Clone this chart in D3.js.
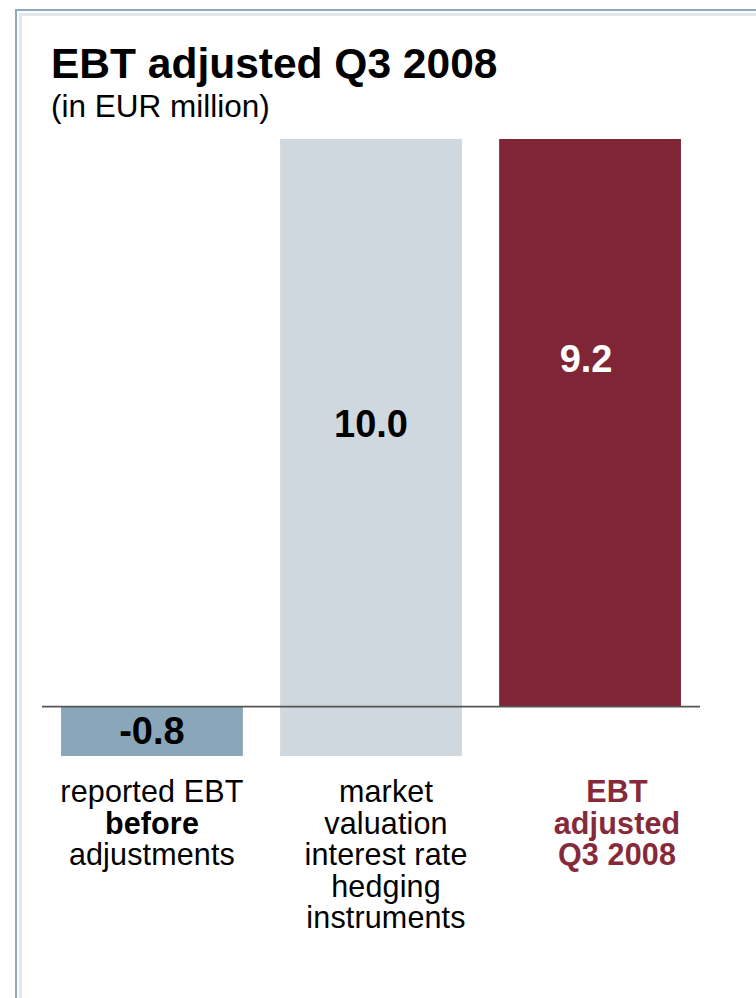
<!DOCTYPE html>
<html>
<head>
<meta charset="utf-8">
<script src="https://cdn.jsdelivr.net/npm/d3@7"></script>
<style>
  html, body { margin: 0; padding: 0; background: #fff; }
  svg { display: block; font-family: "Liberation Sans", Arial, Helvetica, sans-serif; }
</style>
</head>
<body>
<svg id="chart" width="756" height="998"></svg>
<script>
// Bridge from reported EBT to adjusted EBT, Q3 2008 (EUR million)
const categories = ["reported", "valuation", "adjusted"];
const steps = [-0.8, 10.0, 9.2];          // value shown on each bar
const kinds = ["delta", "delta", "total"]; // total bars start at zero
const valueLabels = ["-0.8", "10.0", "9.2"];
const categoryLines = [
  [{ t: "reported EBT", b: false }, { t: "before", b: true }, { t: "adjustments", b: false }],
  [{ t: "market", b: false }, { t: "valuation", b: false }, { t: "interest rate", b: false },
   { t: "hedging", b: false }, { t: "instruments", b: false }],
  [{ t: "EBT", b: true }, { t: "adjusted", b: true }, { t: "Q3 2008", b: true }]
];
const titleText = "EBT adjusted Q3 2008";
const subtitleText = "(in EUR million)";

const barColors = ["#8aa6b9", "#cfd8de", "#7f2536"];
const labelColors = ["#000", "#000", "#fff"];
const catColors = ["#000", "#000", "#862a3b"];

const svg = d3.select("#chart");

// frame lines along the top and left edge
svg.append("rect").attr("x", 15).attr("y", 9).attr("width", 741).attr("height", 2).attr("fill", "#8fa9bc");
svg.append("rect").attr("x", 15).attr("y", 9).attr("width", 2).attr("height", 989).attr("fill", "#8fa9bc");
svg.append("rect").attr("x", 19).attr("y", 13).attr("width", 737).attr("height", 3).attr("fill", "#e1e8ef");
svg.append("rect").attr("x", 19).attr("y", 13).attr("width", 3).attr("height", 985).attr("fill", "#e1e8ef");

// titles
svg.append("text").attr("x", 51).attr("y", 78)
  .attr("font-size", 42.5).attr("font-weight", "bold").attr("fill", "#000").text(titleText);
svg.append("text").attr("x", 51).attr("y", 117)
  .attr("font-size", 31.5).attr("fill", "#000").text(subtitleText);

// running totals for the bridge
let run = 0;
const bars = steps.map((v, i) => {
  let lo, hi;
  if (kinds[i] === "total") { lo = Math.min(0, v); hi = Math.max(0, v); run = v; }
  else { const s = run, e = run + v; lo = Math.min(s, e); hi = Math.max(s, e); run = e; }
  return { cat: categories[i], lo, hi, v, i };
});

const y = d3.scaleLinear()
  .domain([d3.min(bars, d => d.lo), d3.max(bars, d => d.hi)])
  .range([756, 139]);

const x = d3.scaleBand()
  .domain(categories)
  .range([42, 700])
  .paddingInner(0.17)
  .paddingOuter(0.087);

svg.append("g").selectAll("rect")
  .data(bars)
  .join("rect")
  .attr("x", d => x(d.cat))
  .attr("width", x.bandwidth())
  .attr("y", d => y(d.hi))
  .attr("height", d => y(d.lo) - y(d.hi))
  .attr("fill", (d, i) => barColors[i]);

// zero line
svg.append("line")
  .attr("x1", x.range()[0]).attr("x2", x.range()[1])
  .attr("y1", y(0)).attr("y2", y(0))
  .attr("stroke", "#555").attr("stroke-width", 1.6);

// value labels inside the bars
const labelOffset = [37, 298, 233]; // baseline below the bar top
const labelShift = [0, 0, -4];
svg.append("g").selectAll("text")
  .data(bars)
  .join("text")
  .attr("x", (d, i) => x(d.cat) + x.bandwidth() / 2 + labelShift[i])
  .attr("y", (d, i) => y(d.hi) + labelOffset[i])
  .attr("text-anchor", "middle")
  .attr("font-size", 38)
  .attr("font-weight", "bold")
  .attr("fill", (d, i) => labelColors[i])
  .text((d, i) => valueLabels[i]);

// category labels below the axis (text blocks sit slightly right of the outer bars)
const catShift = [0, 15, 27];
const catG = svg.append("g");
categoryLines.forEach((lines, i) => {
  const cx = x(categories[i]) + x.bandwidth() / 2 + catShift[i];
  const t = catG.append("text")
    .attr("x", cx)
    .attr("y", 802)
    .attr("text-anchor", "middle")
    .attr("font-size", 30.5)
    .attr("letter-spacing", 0.15)
    .attr("fill", catColors[i]);
  lines.forEach((ln, j) => {
    t.append("tspan")
      .attr("x", cx)
      .attr("dy", j === 0 ? 0 : 31.5)
      .attr("font-weight", ln.b ? "bold" : "normal")
      .text(ln.t);
  });
});
</script>
</body>
</html>
